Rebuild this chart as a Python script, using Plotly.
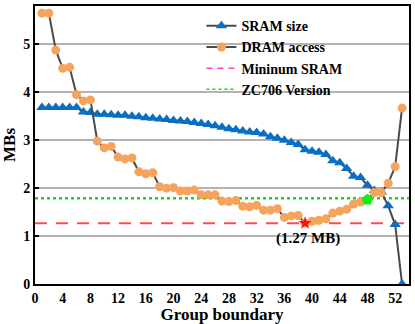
import plotly.graph_objects as go

# group boundary index (1..53)
boundary = list(range(1, 54))

sram_size = [3.68, 3.68, 3.68, 3.68, 3.68, 3.68, 3.59, 3.58, 3.54, 3.54,
             3.53, 3.52, 3.52, 3.50, 3.49, 3.47, 3.46, 3.44, 3.43, 3.41,
             3.40, 3.39, 3.37, 3.35, 3.33, 3.30, 3.27, 3.24, 3.22, 3.19,
             3.17, 3.16, 3.13, 3.07, 3.04, 3.00, 2.95, 2.91, 2.80, 2.77,
             2.75, 2.70, 2.57, 2.53, 2.41, 2.25, 2.22, 2.06, 1.95, 1.92,
             1.63, 1.24, 0.0]

dram_access = [5.65, 5.65, 4.88, 4.50, 4.52, 3.95, 3.82, 3.84, 2.98, 2.84,
               2.87, 2.65, 2.61, 2.63, 2.34, 2.30, 2.32, 2.03, 2.00, 2.01,
               1.94, 1.94, 1.96, 1.86, 1.86, 1.86, 1.73, 1.72, 1.74, 1.62,
               1.61, 1.64, 1.54, 1.54, 1.57, 1.39, 1.42, 1.43, 1.27, 1.31,
               1.33, 1.36, 1.48, 1.52, 1.56, 1.67, 1.71, 1.76, 1.91, 1.91,
               2.10, 2.45, 3.67]

min_sram = 1.27
min_boundary = 39
zc706 = 1.79
zc706_boundary = 48
zc706_value = 1.76

x_range = [0, 54]
y_range = [0, 5.8]
x_ticks = list(range(0, 53, 4))
y_ticks = [0, 1, 2, 3, 4, 5]

font = dict(family="Liberation Serif", size=14, color="black")
line_gray = "#4a4a4a"

fig = go.Figure()

fig.add_trace(go.Scatter(
    x=x_range, y=[min_sram, min_sram], mode="lines", showlegend=False,
    line=dict(color="#ff4d4d", width=2, dash="12px,9px")))
fig.add_trace(go.Scatter(
    x=x_range, y=[zc706, zc706], mode="lines", showlegend=False,
    line=dict(color="#11dd11", width=2.5, dash="dot")))

fig.add_trace(go.Scatter(
    x=boundary, y=sram_size, mode="lines+markers", name="<b>SRAM size</b>",
    line=dict(color=line_gray, width=2),
    marker=dict(symbol="triangle-up", size=10, color="#0a6fc2")))
fig.add_trace(go.Scatter(
    x=boundary, y=dram_access, mode="lines+markers", name="<b>DRAM access</b>",
    line=dict(color=line_gray, width=2),
    marker=dict(symbol="circle", size=9, color="#f5a45d")))

# legend-only entries
fig.add_trace(go.Scatter(
    x=[None], y=[None], mode="lines", name="<b>Mininum SRAM</b>",
    line=dict(color="#ff44bb", width=1.5, dash="6px,5px")))
fig.add_trace(go.Scatter(
    x=[None], y=[None], mode="lines", name="<b>ZC706 Version</b>",
    line=dict(color="#11dd11", width=1.5, dash="dot")))

fig.add_trace(go.Scatter(
    x=[min_boundary], y=[min_sram], mode="markers", showlegend=False,
    marker=dict(symbol="star", size=10, color="#ff1010")))
fig.add_trace(go.Scatter(
    x=[zc706_boundary], y=[zc706_value], mode="markers", showlegend=False,
    marker=dict(symbol="pentagon", size=12, color="#11ee11")))

fig.add_annotation(x=min_boundary + 0.4, y=0.95, text="<b>(1.27 MB)</b>",
                   showarrow=False, font=dict(family="Liberation Serif", size=15, color="black"))

fig.update_layout(
    width=415, height=324,
    margin=dict(l=35, r=4, t=5, b=37),
    paper_bgcolor="white", plot_bgcolor="white",
    font=font,
    showlegend=True,
    legend=dict(x=0.445, y=0.985, xanchor="left", yanchor="top",
                bgcolor="rgba(0,0,0,0)", font=dict(family="Liberation Serif", size=14),
                tracegroupgap=0, itemwidth=30),
)
fig.update_xaxes(range=x_range, tickvals=x_ticks, ticktext=[f"<b>{t}</b>" for t in x_ticks],
                 showgrid=False, zeroline=False, showline=True, linewidth=2, linecolor="black",
                 mirror=True, ticks="", title=dict(text="<b>Group boundary</b>", standoff=2))
fig.update_yaxes(range=y_range, tickvals=y_ticks, ticktext=[f"<b>{t}</b>" for t in y_ticks],
                 showgrid=True, gridcolor="#b3b3b3", gridwidth=1.5, zeroline=False,
                 showline=True, linewidth=2, linecolor="black", mirror=True,
                 ticks="inside", ticklen=4, tickwidth=2, tickcolor="black",
                 title=dict(text="<b>MBs</b>", standoff=4))

fig.write_html("out.html", config={"displayModeBar": False},
               post_script="document.body.style.margin='0px';")
